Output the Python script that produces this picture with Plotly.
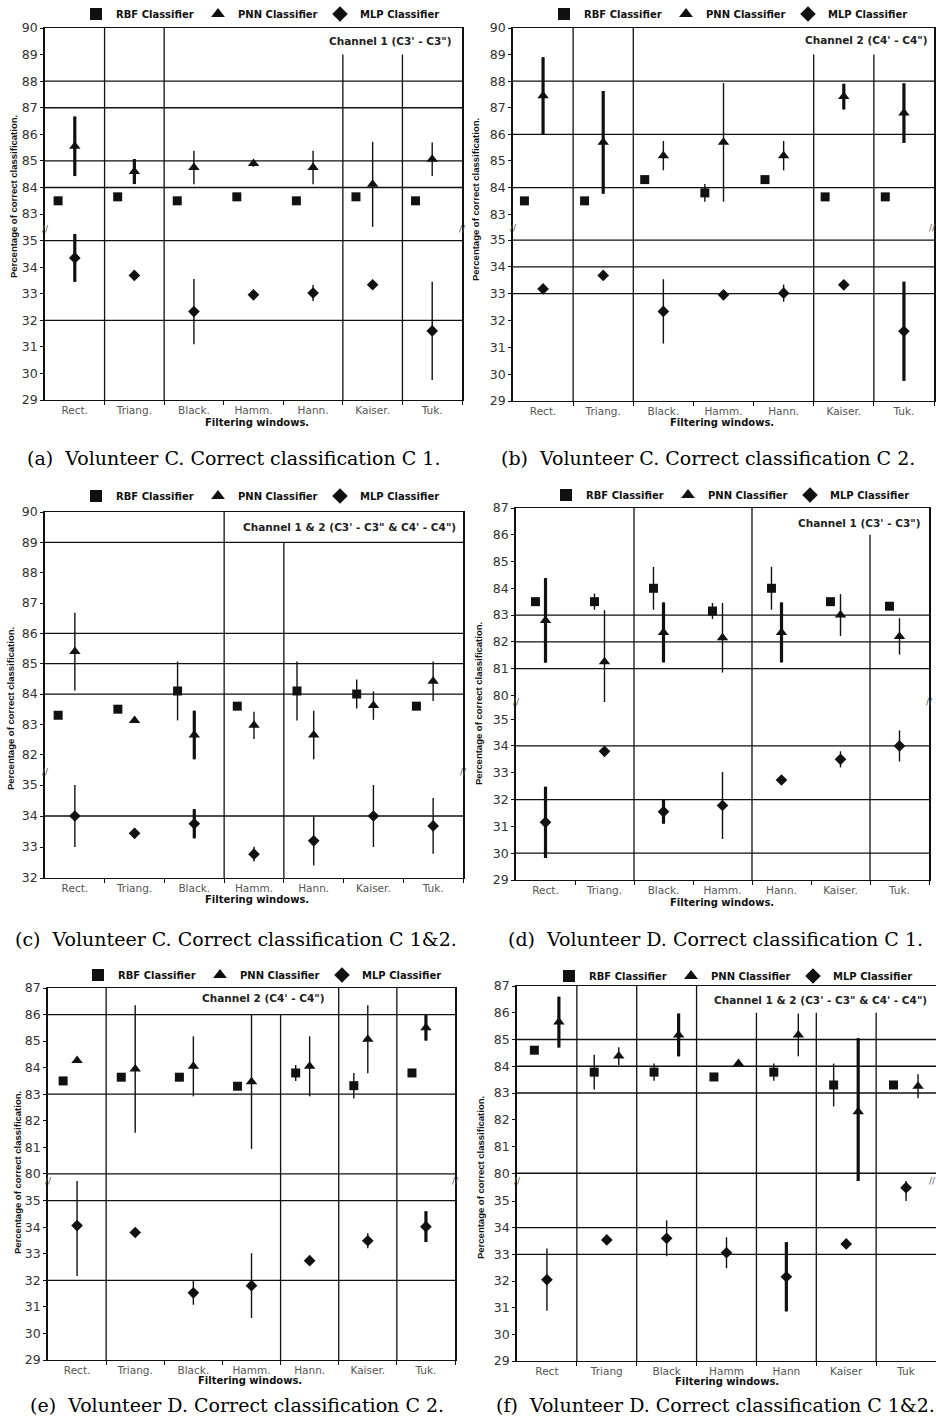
import plotly.graph_objects as go

W, H = 936, 1427

CATS = ["Rect.", "Triang.", "Black.", "Hamm.", "Hann.", "Kaiser.", "Tuk."]
CATS_F = ["Rect", "Triang", "Black", "Hamm", "Hann", "Kaiser", "Tuk"]
SERIES = ["RBF Classifier", "PNN Classifier", "MLP Classifier"]

# (a) Volunteer C, channel 1
a_rbf = [83.5, 83.65, 83.5, 83.65, 83.5, 83.65, 83.5]
a_rbf_err = [0.05, 0.1, 0.05, 0.1, 0.05, 0.1, 0.05]
a_pnn = [85.55, 84.6, 84.75, 84.9, 84.75, 84.12, 85.06]
a_pnn_err = [1.12, 0.47, 0.63, 0.12, 0.63, 1.6, 0.63]
a_mlp = [34.35, 33.69, 32.33, 32.96, 33.03, 33.34, 31.6]
a_mlp_err = [0.9, 0.08, 1.23, 0.1, 0.3, 0.08, 1.85]

# (b) Volunteer C, channel 2
b_rbf = [83.5, 83.5, 84.3, 83.8, 84.3, 83.65, 83.65]
b_rbf_err = [0.05, 0.05, 0.1, 0.33, 0.1, 0.08, 0.08]
b_pnn = [87.45, 85.7, 85.2, 85.7, 85.2, 87.42, 86.8]
b_pnn_err = [1.45, 1.93, 0.55, 2.23, 0.55, 0.48, 1.12]
b_mlp = [33.18, 33.68, 32.34, 32.96, 33.02, 33.33, 31.6]
b_mlp_err = [0.08, 0.08, 1.2, 0.08, 0.32, 0.08, 1.85]

# (c) Volunteer C, channel 1 & 2
c_rbf = [83.3, 83.5, 84.1, 83.6, 84.1, 84.0, 83.6]
c_rbf_err = [0.08, 0.05, 0.97, 0.08, 0.97, 0.48, 0.08]
c_pnn = [85.4, 83.13, 82.65, 82.97, 82.65, 83.62, 84.42]
c_pnn_err = [1.28, 0.0, 0.8, 0.45, 0.8, 0.47, 0.65]
c_mlp = [34.0, 33.44, 33.75, 32.77, 33.2, 34.0, 33.68]
c_mlp_err = [1.0, 0.16, 0.47, 0.24, 0.8, 1.0, 0.9]

# (d) Volunteer D, channel 1
d_rbf = [83.5, 83.5, 84.0, 83.15, 84.0, 83.5, 83.33]
d_rbf_err = [0.05, 0.3, 0.8, 0.3, 0.8, 0.05, 0.08]
d_pnn = [82.8, 81.25, 82.35, 82.15, 82.35, 83.0, 82.2]
d_pnn_err = [1.58, 1.93, 1.12, 1.3, 1.12, 0.78, 0.68]
d_mlp = [31.15, 33.8, 31.55, 31.78, 32.73, 33.5, 34.0]
d_mlp_err = [1.33, 0.1, 0.45, 1.25, 0.08, 0.3, 0.58]

# (e) Volunteer D, channel 2
e_rbf = [83.5, 83.64, 83.64, 83.3, 83.8, 83.32, 83.8]
e_rbf_err = [0.05, 0.05, 0.05, 0.12, 0.3, 0.48, 0.05]
e_pnn = [84.27, 83.95, 84.05, 83.47, 84.05, 85.07, 85.5]
e_pnn_err = [0.0, 2.4, 1.13, 2.53, 1.13, 1.28, 0.48]
e_mlp = [34.06, 33.8, 31.53, 31.8, 32.74, 33.49, 34.02]
e_mlp_err = [1.9, 0.08, 0.45, 1.22, 0.08, 0.28, 0.58]

# (f) Volunteer D, channel 1 & 2
f_rbf = [84.6, 83.78, 83.78, 83.6, 83.78, 83.3, 83.3]
f_rbf_err = [0.08, 0.65, 0.32, 0.05, 0.32, 0.8, 0.08]
f_pnn = [85.65, 84.38, 85.17, 84.1, 85.17, 82.3, 83.25]
f_pnn_err = [0.95, 0.33, 0.8, 0.08, 0.8, 2.75, 0.45]
f_mlp = [32.05, 33.54, 33.6, 33.06, 32.16, 33.39, 35.5]
f_mlp_err = [1.17, 0.06, 0.67, 0.58, 1.3, 0.06, 0.5]

CH1 = "Channel 1 (C3' - C3\")"
CH2 = "Channel 2 (C4' - C4\")"
CH12 = "Channel 1 & 2 (C3' - C3\" & C4' - C4\")"

panels = [
    dict(cats=CATS, rbf=a_rbf, rbf_err=a_rbf_err, pnn=a_pnn, pnn_err=a_pnn_err, mlp=a_mlp, mlp_err=a_mlp_err,
         title=CH1, caption="(a)\u00a0 Volunteer C. Correct classification C 1."),
    dict(cats=CATS, rbf=b_rbf, rbf_err=b_rbf_err, pnn=b_pnn, pnn_err=b_pnn_err, mlp=b_mlp, mlp_err=b_mlp_err,
         title=CH2, caption="(b)\u00a0 Volunteer C. Correct classification C 2."),
    dict(cats=CATS, rbf=c_rbf, rbf_err=c_rbf_err, pnn=c_pnn, pnn_err=c_pnn_err, mlp=c_mlp, mlp_err=c_mlp_err,
         title=CH12, caption="(c)\u00a0 Volunteer C. Correct classification C 1&2."),
    dict(cats=CATS, rbf=d_rbf, rbf_err=d_rbf_err, pnn=d_pnn, pnn_err=d_pnn_err, mlp=d_mlp, mlp_err=d_mlp_err,
         title=CH1, caption="(d)\u00a0 Volunteer D. Correct classification C 1."),
    dict(cats=CATS, rbf=e_rbf, rbf_err=e_rbf_err, pnn=e_pnn, pnn_err=e_pnn_err, mlp=e_mlp, mlp_err=e_mlp_err,
         title=CH2, caption="(e)\u00a0 Volunteer D. Correct classification C 2."),
    dict(cats=CATS_F, rbf=f_rbf, rbf_err=f_rbf_err, pnn=f_pnn, pnn_err=f_pnn_err, mlp=f_mlp, mlp_err=f_mlp_err,
         title=CH12, caption="(f)\u00a0 Volunteer D. Correct classification C 1&2."),
]

# geometry / style (pixel positions, gridlines, which error bars are drawn heavy)
geom = [
    dict(x0=45, x1=462, yt=28, yb=229, ybot=400, top=[82.44, 90], bot=[29, 35.44], rbf_off=-0.28, pnn_off=0,
         hgt=[88, 87, 85, 84], hgb=[35, 32], vl=[(1, None), (2, None), (5, 89), (6, 89)],
         tpos=(454, 41, "right"), leg=(113, 14), ytit=(13, 197), xtit=(257, 422), cap=(233, 458),
         heavy=dict(rbf=[], pnn=[0, 1], mlp=[0])),
    dict(x0=513, x1=934, yt=28, yb=228, ybot=401, top=[82.48, 90], bot=[29, 35.45], rbf_off=-0.31, pnn_off=0,
         hgt=[88, 86, 84], hgb=[35, 34, 33], vl=[(1, None), (2, None), (5, 89), (6, 89)],
         tpos=(930, 40, "right"), leg=(581, 14), ytit=(476, 200), xtit=(722, 422), cap=(708, 458),
         heavy=dict(rbf=[], pnn=[0, 1, 5, 6], mlp=[6])),
    dict(x0=45, x1=463, yt=512, yb=772, ybot=878, top=[81.43, 90], bot=[32, 35.42], rbf_off=-0.28, pnn_off=0,
         hgt=[89, 86, 85, 84], hgb=[34], vl=[(3, None), (4, 89)],
         tpos=(458, 527, "right"), leg=(113, 496), ytit=(11, 709), xtit=(257, 900), cap=(236, 939),
         heavy=dict(rbf=[], pnn=[2], mlp=[2])),
    dict(x0=516, x1=929, yt=508, yb=702, ybot=880, top=[79.75, 87], bot=[29, 35.64], rbf_off=-0.17, pnn_off=0,
         hgt=[83, 82, 81], hgb=[34, 32, 30], vl=[(2, None), (4, None), (6, 86)],
         tpos=(923, 523, "right"), leg=(583, 495), ytit=(478, 703), xtit=(722, 902), cap=(715, 939),
         heavy=dict(rbf=[], pnn=[0, 2, 4], mlp=[0, 2])),
    dict(x0=48, x1=455, yt=988, yb=1181, ybot=1360, top=[79.73, 87], bot=[29, 35.74], rbf_off=-0.24, pnn_off=0,
         hgt=[86, 83, 80], hgb=[35, 32], vl=[(1, None), (4, 86), (5, None), (6, None)],
         tpos=(263, 998, "center"), leg=(115, 975), ytit=(17, 1173), xtit=(250, 1380), cap=(237, 1405),
         heavy=dict(rbf=[], pnn=[6], mlp=[6])),
    dict(x0=517, x1=936, yt=986, yb=1181, ybot=1361, top=[79.71, 87], bot=[29, 35.75], rbf_off=-0.21, pnn_off=0.2,
         hgt=[85, 84, 83, 80], hgb=[34, 33], vl=[(1, None), (2, None), (3, None), (4, 86), (5, 86), (6, 86)],
         tpos=(929, 1000, "right"), leg=(586, 976), ytit=(480, 1177), xtit=(727, 1381), cap=(715, 1405),
         heavy=dict(rbf=[], pnn=[0, 2, 5], mlp=[4])),
]

INK = "#111111"
SANS = "DejaVu Sans"
NARROW = "Liberation Sans"
THIN, THICK = 1.4, 3.2


def px(x):
    return x / W


def py(y):
    return 1 - y / H


def sfx(k):
    return "" if k == 1 else str(k)


fig = go.Figure()
layout = {}
shapes = []
annotations = []

SYMBOLS = dict(rbf=("square", 9), pnn=("triangle-up", 10), mlp=("diamond", 9))

for i, (p, g) in enumerate(zip(panels, geom)):
    kt, kb = 2 * i + 1, 2 * i + 2
    xt, yt_, xb, yb_ = "x" + sfx(kt), "y" + sfx(kt), "x" + sfx(kb), "y" + sfx(kb)
    legname = "legend" + sfx(i + 1)
    n = len(p["cats"])
    xs = list(range(n))
    xdom = [px(g["x0"]), min(1.0, px(g["x1"]))]
    top_dom = [py(g["yb"]), py(g["yt"])]
    bot_dom = [py(g["ybot"]), py(g["yb"])]
    xr = [-0.5, n - 0.5]

    offs = dict(rbf=g["rbf_off"], pnn=g["pnn_off"], mlp=0.0)
    axes = dict(rbf=(xt, yt_), pnn=(xt, yt_), mlp=(xb, yb_))
    for s, key in enumerate(["rbf", "pnn", "mlp"]):
        xv = [v + offs[key] for v in xs]
        ax_x, ax_y = axes[key]
        sym, size = SYMBOLS[key]
        # heavy error bars drawn beneath the main markers
        hv = g["heavy"][key]
        if hv:
            fig.add_trace(go.Scatter(
                x=[xv[j] for j in hv], y=[p[key][j] for j in hv], mode="markers",
                marker=dict(size=1, color="rgba(0,0,0,0)"), showlegend=False, hoverinfo="skip",
                error_y=dict(type="data", array=[p[key + "_err"][j] for j in hv], thickness=THICK,
                             width=0, color=INK),
                xaxis=ax_x, yaxis=ax_y))
        fig.add_trace(go.Scatter(
            x=xv, y=p[key], mode="markers", name=SERIES[s],
            marker=dict(symbol=sym, size=size, color=INK),
            error_y=dict(type="data", array=p[key + "_err"], thickness=THIN, width=0, color=INK),
            xaxis=ax_x, yaxis=ax_y, legend=legname))

    tickfont = dict(family=SANS, size=12.5, color="#333333")
    layout["xaxis" + sfx(kt)] = dict(domain=xdom, range=xr, anchor=yt_, side="top",
                                     showticklabels=False, ticks="", showgrid=False, zeroline=False,
                                     showline=True, linecolor=INK, linewidth=1.3, fixedrange=True)
    layout["xaxis" + sfx(kb)] = dict(domain=xdom, range=xr, anchor=yb_, tickmode="array",
                                     tickvals=xs, ticktext=p["cats"], ticks="",
                                     tickfont=dict(family=SANS, size=10.5, color="#555555"),
                                     showgrid=False, zeroline=False, showline=True, linecolor=INK,
                                     linewidth=1.3,
                                     minor=dict(tickmode="array", tickvals=[v + 0.5 for v in xs],
                                                ticks="outside", ticklen=4, tickcolor=INK, showgrid=False))
    ytop_ticks = [v for v in range(int(g["top"][0]) + 1, int(g["top"][1]) + 1)]
    ybot_ticks = [v for v in range(int(g["bot"][0]), int(g["bot"][1]) + 1) if v >= g["bot"][0]]
    layout["yaxis" + sfx(kt)] = dict(domain=top_dom, range=g["top"], anchor=xt, tickmode="array",
                                     tickvals=ytop_ticks, ticks="outside", ticklen=3, tickcolor=INK,
                                     tickfont=tickfont, showgrid=False, zeroline=False, showline=True,
                                     mirror=True, linecolor=INK, linewidth=1.5)
    layout["yaxis" + sfx(kb)] = dict(domain=bot_dom, range=g["bot"], anchor=xb, tickmode="array",
                                     tickvals=ybot_ticks, ticks="outside", ticklen=3, tickcolor=INK,
                                     tickfont=tickfont, showgrid=False, zeroline=False, showline=True,
                                     mirror=True, linecolor=INK, linewidth=1.5)

    # horizontal grid lines
    for v in g["hgt"]:
        shapes.append(dict(type="line", xref=xt + " domain", x0=0, x1=1, yref=yt_, y0=v, y1=v,
                           line=dict(color=INK, width=1.3), layer="below"))
    for v in g["hgb"]:
        shapes.append(dict(type="line", xref=xb + " domain", x0=0, x1=1, yref=yb_, y0=v, y1=v,
                           line=dict(color=INK, width=1.3), layer="below"))
    # vertical separators
    for b, top in g["vl"]:
        xv = b - 0.5
        shapes.append(dict(type="line", xref=xt, x0=xv, x1=xv, yref=yt_, y0=g["top"][0],
                           y1=top if top is not None else g["top"][1],
                           line=dict(color=INK, width=1.3), layer="below"))
        shapes.append(dict(type="line", xref=xb, x0=xv, x1=xv, yref=yb_ + " domain", y0=0, y1=1,
                           line=dict(color=INK, width=1.3), layer="below"))

    # legend
    layout[legname] = dict(x=px(g["leg"][0] - 37), y=py(g["leg"][1]), xanchor="left", yanchor="middle",
                           orientation="h", entrywidth=77, entrywidthmode="pixels",
                           font=dict(family=SANS, size=10, color=INK, weight="bold"),
                           bgcolor="rgba(0,0,0,0)", borderwidth=0, itemsizing="constant")

    # channel title
    tx, ty, ta = g["tpos"]
    annotations.append(dict(text=p["title"], x=px(tx), y=py(ty), xref="paper", yref="paper",
                            xanchor=ta, yanchor="middle", showarrow=False,
                            font=dict(family=SANS, size=10.5, color="#222222", weight="bold")))
    # y title
    annotations.append(dict(text="Percentage of correct classification.", x=px(g["ytit"][0]),
                            y=py(g["ytit"][1]), xref="paper", yref="paper", textangle=-90,
                            xanchor="center", yanchor="middle", showarrow=False,
                            font=dict(family=NARROW, size=9.5, color=INK, weight="bold")))
    # x title
    annotations.append(dict(text="Filtering windows.", x=px(g["xtit"][0]), y=py(g["xtit"][1]),
                            xref="paper", yref="paper", xanchor="center", yanchor="middle",
                            showarrow=False, font=dict(family=SANS, size=10, color=INK, weight="bold")))
    # caption
    annotations.append(dict(text=p["caption"], x=px(g["cap"][0]), y=py(g["cap"][1]), xref="paper",
                            yref="paper", xanchor="center", yanchor="middle", showarrow=False,
                            font=dict(family="DejaVu Serif", size=19, color="#000000")))
    # axis break marks
    for xe in (g["x0"], min(g["x1"], W - 4)):
        annotations.append(dict(text="//", x=px(xe), y=py(g["yb"]), xref="paper", yref="paper",
                                xanchor="center", yanchor="middle", showarrow=False,
                                font=dict(family=SANS, size=9, color="#555555")))

layout.update(dict(width=W, height=H, margin=dict(l=0, r=0, t=0, b=0, pad=0, autoexpand=False),
                   paper_bgcolor="white", plot_bgcolor="white",
                   shapes=shapes, annotations=annotations))
fig.update_layout(**layout)
fig.write_html("out.html", config={"displayModeBar": False},
               post_script="document.body.style.margin='0';document.body.style.padding='0';")
